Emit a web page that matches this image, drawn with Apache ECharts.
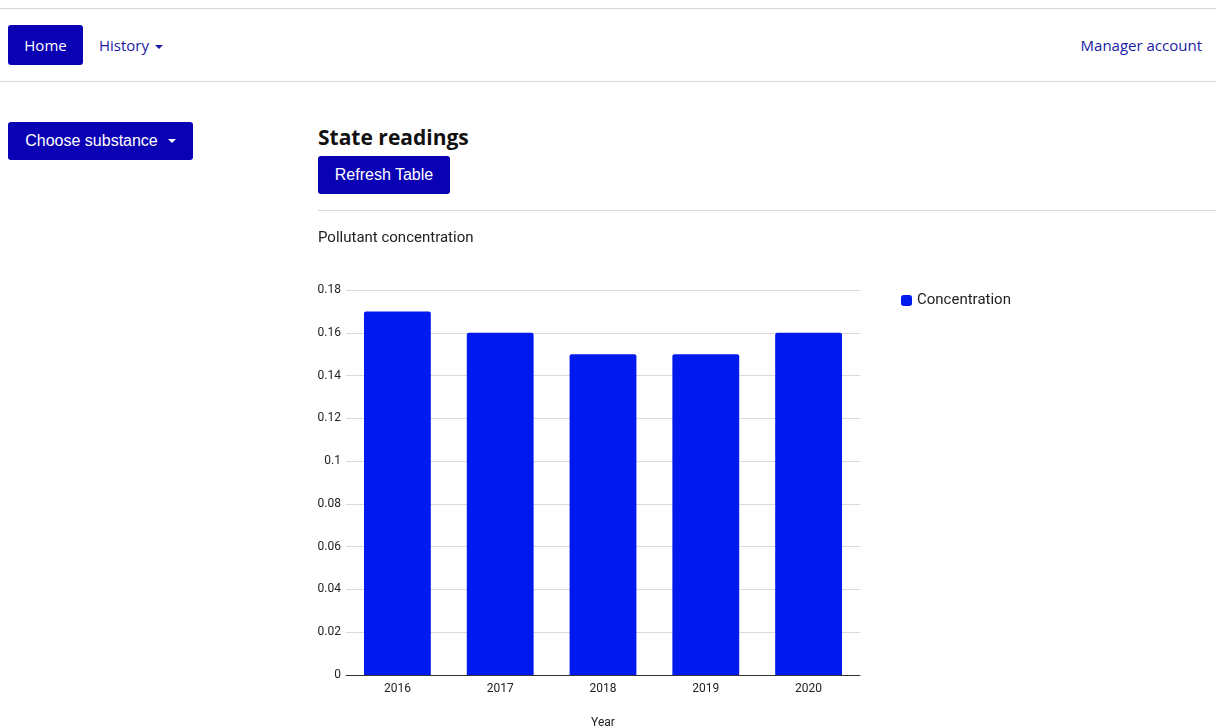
<!DOCTYPE html>
<html>
<head>
<meta charset="utf-8">
<script src="https://cdn.jsdelivr.net/npm/echarts@6/dist/echarts.min.js"></script>
<style>
  html, body { margin: 0; padding: 0; background: #fff; }
  body { width: 1216px; height: 728px; position: relative; overflow: hidden; font-family: "Open Sans", sans-serif; }
  .rule { position: absolute; height: 1px; background: #d6d6d6; }
  .btn { position: absolute; background: #0a00b4; color: #fff; border-radius: 3px; font-family: "Liberation Sans", Arial, sans-serif; font-size: 16px; display: flex; align-items: center; justify-content: center; }
  .caret { display: inline-block; width: 0; height: 0; border-left: 4px solid transparent; border-right: 4px solid transparent; border-top: 4px solid currentColor; margin-left: 6px; vertical-align: middle; }
  .link { position: absolute; color: #1a1aa6; font-size: 15px; }
  #chart { position: absolute; left: 300px; top: 215px; width: 916px; height: 513px; }
</style>
</head>
<body>
<div class="rule" style="left:0;top:8px;width:1216px"></div>
<div class="btn" style="left:8px;top:25px;width:75px;height:40px;font-family:'Open Sans',sans-serif;font-size:15px">Home</div>
<div class="link" style="left:99px;top:35px">History<span class="caret"></span></div>
<div class="link" style="right:14px;top:35px">Manager account</div>
<div class="rule" style="left:0;top:81px;width:1216px"></div>
<div class="btn" style="left:8px;top:122px;width:185px;height:38px">Choose substance<span class="caret" style="margin-left:10px"></span></div>
<div style="position:absolute;left:318px;top:123px;font-size:21px;font-weight:bold;color:#111">State readings</div>
<div class="btn" style="left:318px;top:156px;width:132px;height:38px">Refresh Table</div>
<div class="rule" style="left:318px;top:210px;width:898px"></div>
<div id="chart"></div>
<script>
const years = ['2016', '2017', '2018', '2019', '2020']
const concentration = [0.17, 0.16, 0.15, 0.15, 0.16]

const chart = echarts.init(document.getElementById('chart'))
chart.setOption({
  animation: false,
  title: {
    text: 'Pollutant concentration',
    left: 13,
    top: 11,
    textStyle: { fontFamily: 'Roboto', fontSize: 15, fontWeight: 'normal', color: '#222' }
  },
  legend: {
    data: ['Concentration'],
    left: 596,
    top: 73,
    itemWidth: 11,
    itemHeight: 11,
    itemGap: 8,
    icon: 'roundRect',
    textStyle: { fontFamily: 'Roboto', fontSize: 15, color: '#222' }
  },
  grid: { left: 46, right: 356, top: 75, bottom: 53, outerBoundsMode: 'none', containLabel: false },
  xAxis: {
    type: 'category',
    data: years,
    name: 'Year',
    nameLocation: 'middle',
    nameGap: 42,
    nameTextStyle: { fontFamily: 'Roboto', fontSize: 12, color: '#222' },
    axisTick: { show: false },
    axisLine: { lineStyle: { color: '#333' } },
    axisLabel: { fontFamily: 'Roboto', fontSize: 12, color: '#222', margin: 8 }
  },
  yAxis: {
    type: 'value',
    min: 0,
    max: 0.18,
    interval: 0.02,
    axisLabel: { fontFamily: 'Roboto', fontSize: 12, color: '#222', margin: 5 },
    splitLine: { lineStyle: { color: '#d9d9d9' } }
  },
  series: [{
    name: 'Concentration',
    type: 'bar',
    data: concentration,
    barWidth: '65%',
    itemStyle: { color: '#0019ee', borderRadius: [2, 2, 0, 0] }
  }]
})
</script>
</body>
</html>
